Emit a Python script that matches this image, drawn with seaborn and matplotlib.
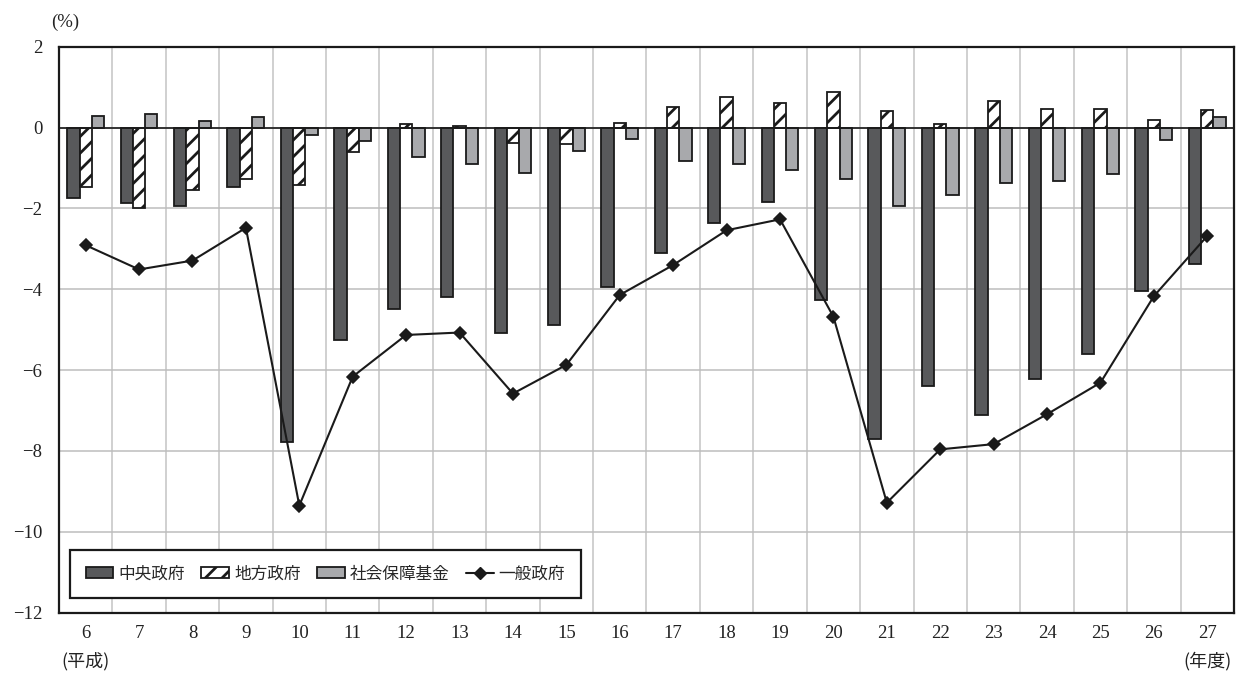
import numpy as np
import pandas as pd
import seaborn as sns
import matplotlib.pyplot as plt
from matplotlib.patches import Patch
from matplotlib.lines import Line2D
from matplotlib.transforms import blended_transform_factory

# fiscal years (Heisei 6 .. 27)
years = [str(y) for y in range(6, 28)]

central = [-1.74, -1.86, -1.93, -1.48, -7.78, -5.26, -4.50, -4.18, -5.09, -4.89, -3.95,
           -3.10, -2.37, -1.84, -4.27, -7.71, -6.39, -7.11, -6.23, -5.59, -4.04, -3.38]
local = [-1.46, -2.00, -1.55, -1.27, -1.42, -0.60, 0.08, 0.03, -0.39, -0.41, 0.11,
         0.51, 0.75, 0.61, 0.87, 0.41, 0.08, 0.66, 0.47, 0.46, 0.19, 0.44]
social = [0.29, 0.33, 0.17, 0.26, -0.18, -0.33, -0.72, -0.91, -1.12, -0.58, -0.29,
          -0.82, -0.91, -1.05, -1.28, -1.94, -1.66, -1.37, -1.33, -1.16, -0.31, 0.27]
general = [-2.91, -3.51, -3.29, -2.48, -9.35, -6.16, -5.13, -5.07, -6.58, -5.87, -4.14,
           -3.40, -2.54, -2.27, -4.68, -9.28, -7.96, -7.83, -7.09, -6.31, -4.17, -2.68]

series_names = ['中央政府', '地方政府', '社会保障基金']
line_name = '一般政府'
bar_colors = ['#58595b', '#ffffff', '#a8a9ac']
edge = '#1a1a1a'

sns.set_theme(style='white')
plt.rcParams['font.family'] = ['Liberation Serif', 'Noto Sans CJK JP']
plt.rcParams['hatch.linewidth'] = 2.0
plt.rcParams['axes.unicode_minus'] = True

bars = pd.DataFrame({'year': years, series_names[0]: central,
                     series_names[1]: local, series_names[2]: social})
bars = bars.melt(id_vars='year', var_name='series', value_name='value')

fig = plt.figure(figsize=(12.49, 6.73), dpi=100)
ax = fig.add_axes([0.0472, 0.0896, 0.9408, 0.841])

sns.barplot(data=bars, x='year', y='value', hue='series', order=years,
            hue_order=series_names, palette=bar_colors, saturation=1,
            width=0.69, edgecolor=edge, linewidth=1.3, legend=False, ax=ax, zorder=3)
for p in ax.containers[1]:
    p.set_hatch('//')

sns.pointplot(x=years, y=general, order=years, color=edge, markers='D',
              markersize=6, linewidth=1.5, errorbar=None, ax=ax)
for ln in ax.lines:
    ln.set_zorder(5)

ax.set_ylim(-12, 2)
ax.set_xlim(-0.5, len(years) - 0.5)
ax.set_yticks(range(-12, 3, 2))
ax.set_xticks(np.arange(len(years)) + 0.5, minor=True)
ax.grid(axis='y', which='major', color='#bdbdbd', linewidth=1.1, zorder=0)
ax.grid(axis='x', which='minor', color='#c4c4c4', linewidth=1.1, zorder=0)
ax.grid(axis='x', which='major', visible=False)
ax.set_axisbelow(True)
ax.axhline(0, color=edge, linewidth=1.2, zorder=4)
ax.set_xlabel('')
ax.set_ylabel('')
ax.tick_params(axis='both', which='both', length=0, labelsize=13.5, colors='#222222')
ax.tick_params(axis='x', pad=9)
ax.tick_params(axis='y', pad=12)
for s in ax.spines.values():
    s.set_color(edge)
    s.set_linewidth(1.6)

jp = 'Noto Sans CJK JP'
fig.text(0.052, 0.967, '(%)', fontsize=13.5, ha='center', va='center', color='#222222')
trans = blended_transform_factory(ax.transData, ax.transAxes)
ax.text(0, -0.085, '(平成)', transform=trans, ha='center', va='center',
        fontsize=13, family=[jp], color='#222222')
ax.text(len(years) - 1, -0.085, '(年度)', transform=trans, ha='center', va='center',
        fontsize=13, family=[jp], color='#222222')

handles = [Patch(facecolor=bar_colors[0], edgecolor=edge, linewidth=1.3),
           Patch(facecolor=bar_colors[1], edgecolor=edge, linewidth=1.3, hatch='//'),
           Patch(facecolor=bar_colors[2], edgecolor=edge, linewidth=1.3),
           Line2D([], [], color=edge, marker='D', markersize=6, linewidth=1.5)]
leg = ax.legend(handles, series_names + [line_name], ncol=4, loc='lower left',
                bbox_to_anchor=(0.0094, 0.0254), borderaxespad=0, frameon=True,
                fancybox=False, edgecolor=edge, framealpha=1,
                prop={'family': [jp], 'size': 12}, handlelength=1.65,
                handleheight=0.65, handletextpad=0.3, columnspacing=1.0,
                borderpad=0.95)
leg.get_frame().set_linewidth(1.6)
leg.set_zorder(6)

fig.savefig('out.png', dpi=100, facecolor='white')
